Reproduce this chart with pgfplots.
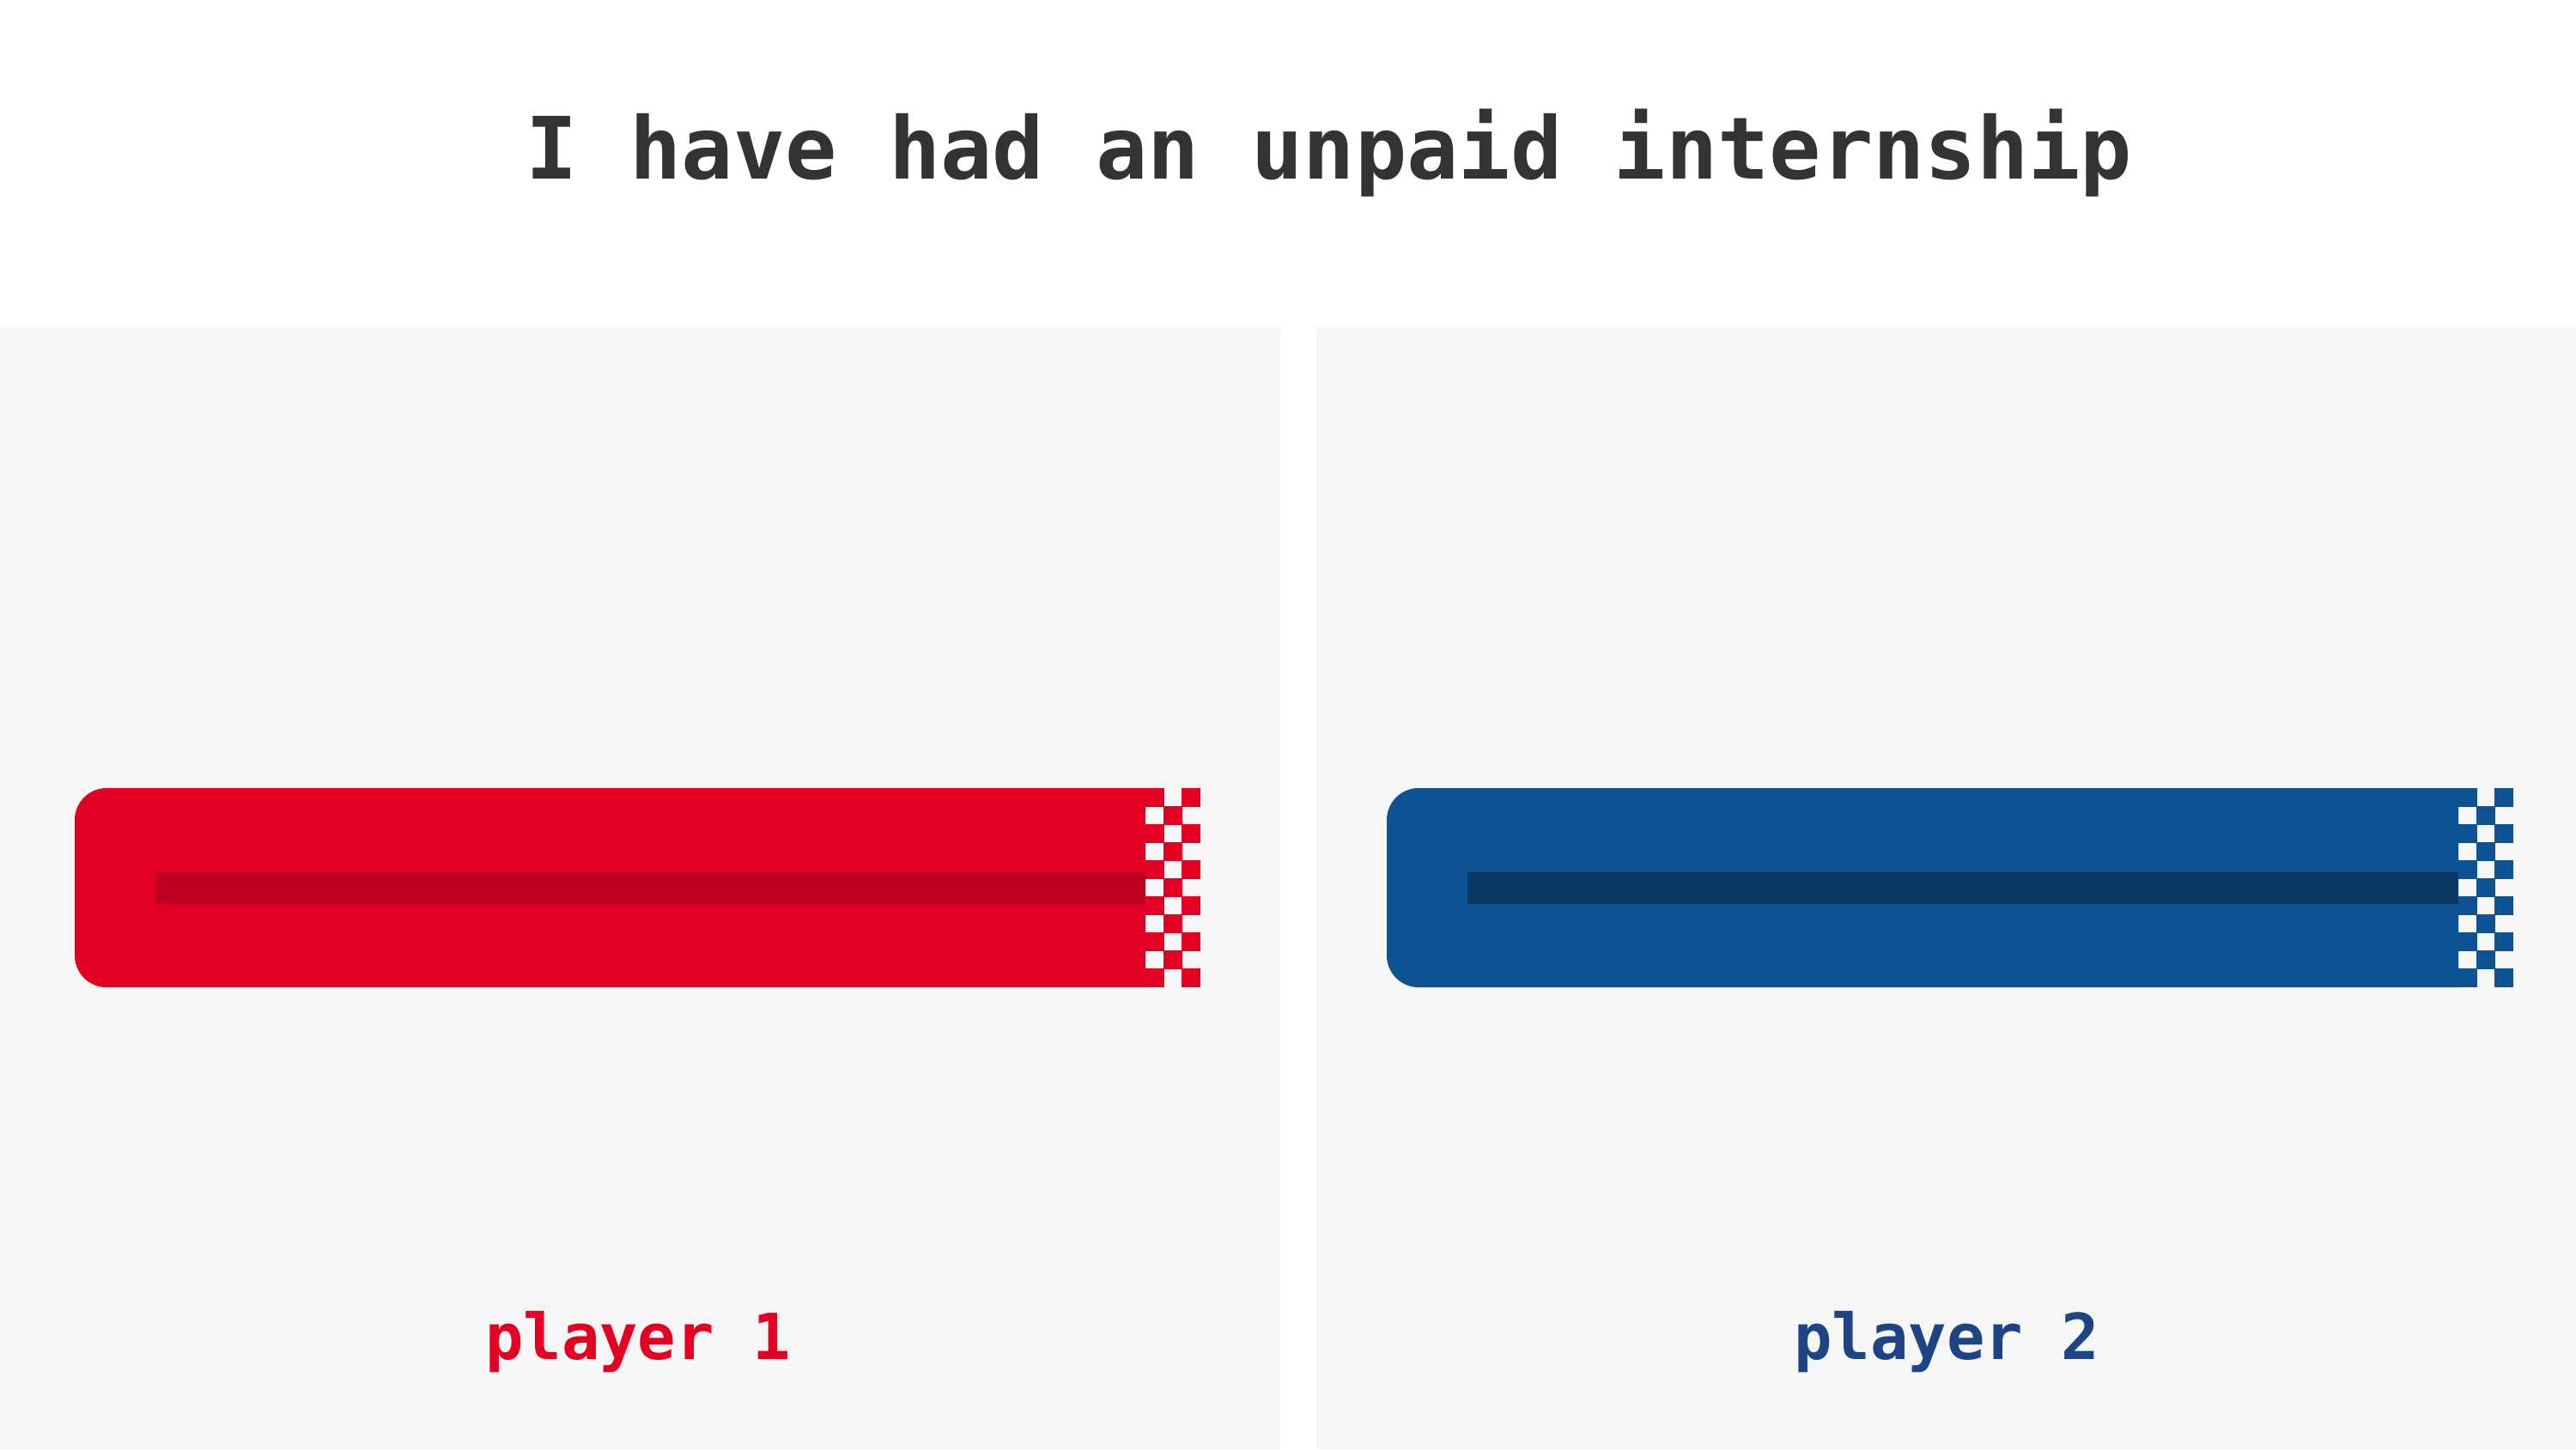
\documentclass[border=0pt]{standalone}
\usepackage{fontspec}
\setmonofont{DejaVu Sans Mono}
\usepackage{pgfplots}
\pgfplotsset{compat=1.18}
\usepackage{pgfplotstable}
\definecolor{panel}{HTML}{F6F6F6}
\definecolor{redbar}{HTML}{E30022}
\definecolor{redin}{HTML}{BE0020}
\definecolor{bluebar}{HTML}{0D5293}
\definecolor{bluein}{HTML}{0A3864}
\definecolor{bluelab}{HTML}{1D4585}
\definecolor{titlec}{HTML}{333333}
% checker squares (centres, pixel units)
\pgfplotstableread{
x y
1344.5 928.5
1386.5 928.5
1365.5 949.5
1344.5 970.5
1386.5 970.5
1365.5 991.5
1344.5 1012.5
1386.5 1012.5
1365.5 1033.5
1344.5 1054.5
1386.5 1054.5
1365.5 1075.5
1344.5 1096.5
1386.5 1096.5
1365.5 1117.5
1344.5 1138.5
1386.5 1138.5
}\checkA
\pgfplotstableread{
x y
2873.5 928.5
2915.5 928.5
2894.5 949.5
2873.5 970.5
2915.5 970.5
2894.5 991.5
2873.5 1012.5
2915.5 1012.5
2894.5 1033.5
2873.5 1054.5
2915.5 1054.5
2894.5 1075.5
2873.5 1096.5
2915.5 1096.5
2894.5 1117.5
2873.5 1138.5
2915.5 1138.5
}\checkB
\begin{document}
\begin{tikzpicture}
\begin{axis}[
  x=0.01cm, y=0.01cm, y dir=reverse,
  xmin=0, xmax=3000, ymin=0, ymax=1688,
  hide axis, clip=false,
]
\fill[white] (axis cs:0,0) rectangle (axis cs:3000,1688);
\fill[panel] (axis cs:0,381) rectangle (axis cs:1491,1688);
\fill[panel] (axis cs:1533,381) rectangle (axis cs:3000,1688);
% player 1
\addplot[draw=none, fill=redbar, rounded corners=0.37cm] coordinates {(1334,918) (87,918) (87,1150) (1334,1150)};
\addplot[draw=none, fill=redin] coordinates {(1334,1016) (181,1016) (181,1053) (1334,1053)};
\addplot[only marks, color=redbar, mark=square*, mark size=0.105cm, mark options={solid, draw=redbar, fill=redbar, line width=0pt}] table[x=x,y=y] {\checkA};
% player 2
\addplot[draw=none, fill=bluebar, rounded corners=0.37cm] coordinates {(2863,918) (1615,918) (1615,1150) (2863,1150)};
\addplot[draw=none, fill=bluein] coordinates {(2863,1016) (1709,1016) (1709,1053) (2863,1053)};
\addplot[only marks, color=bluebar, mark=square*, mark size=0.105cm, mark options={solid, draw=bluebar, fill=bluebar, line width=0pt}] table[x=x,y=y] {\checkB};
% texts
\node[anchor=base, text=titlec, font=\ttfamily\bfseries\fontsize{28.5}{30}\selectfont] at (axis cs:1548,208) {I have had an unpaid internship};
\node[anchor=base, text=redbar, font=\ttfamily\bfseries\fontsize{21}{24}\selectfont] at (axis cs:743,1583) {player 1};
\node[anchor=base, text=bluelab, font=\ttfamily\bfseries\fontsize{21}{24}\selectfont] at (axis cs:2267,1583) {player 2};
\end{axis}
\end{tikzpicture}
\end{document}
